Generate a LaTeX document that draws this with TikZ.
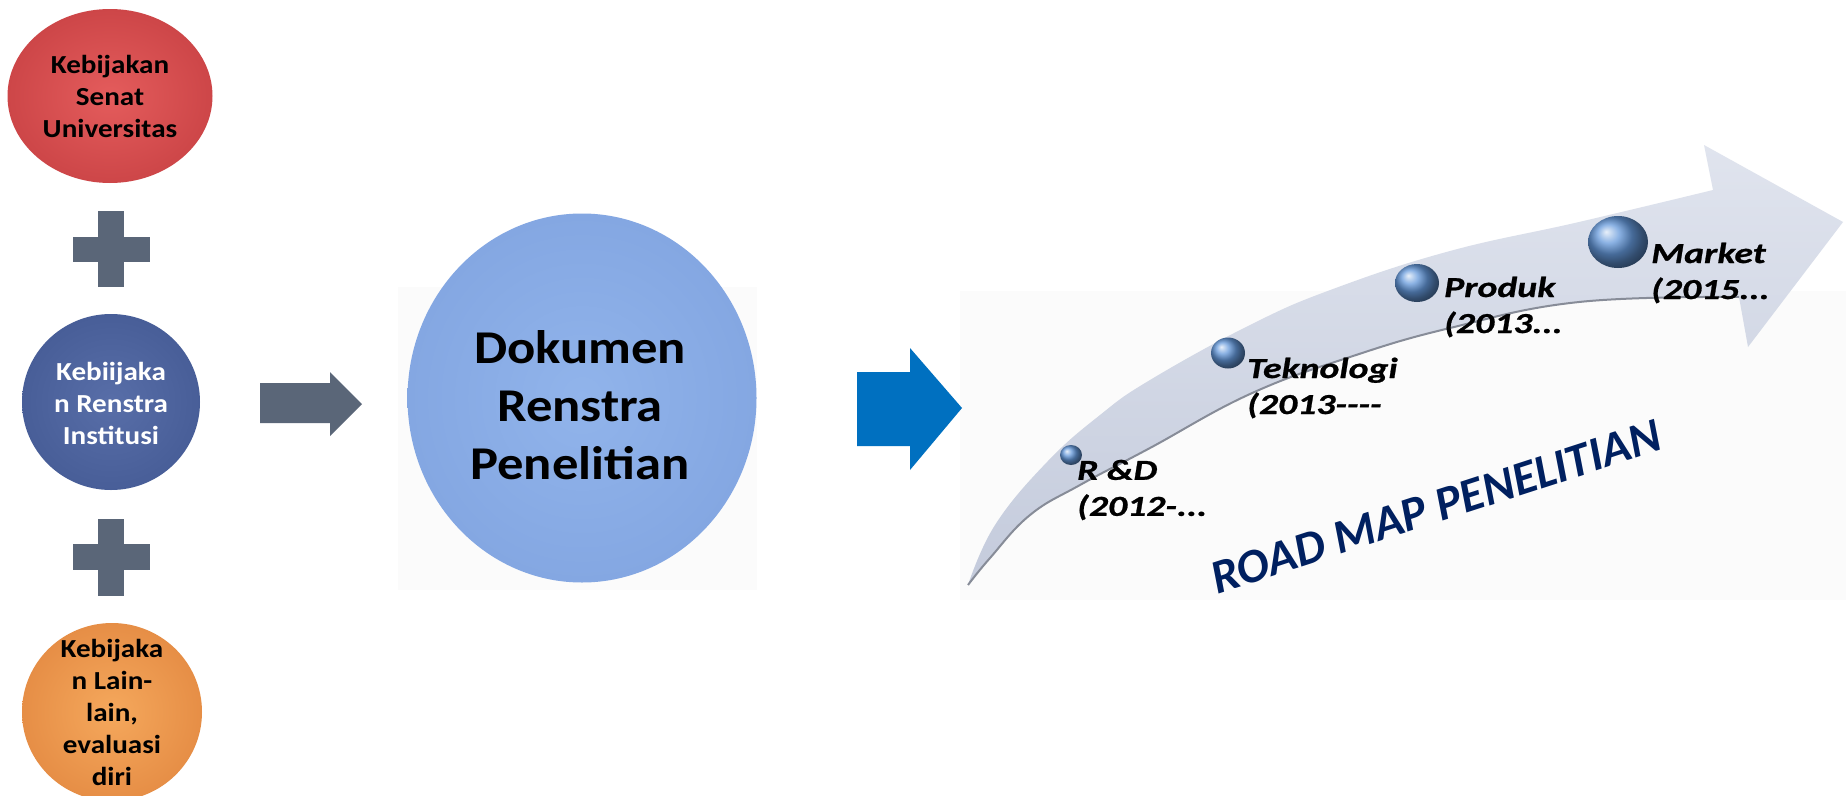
\documentclass[tikz,border=0pt]{standalone}
\usepackage{fontspec}
\setmainfont{Carlito}
\newfontfamily\cfont[FakeStretch=1.12]{Carlito}
\newfontfamily\rmapfont[FakeStretch=1.3,FakeBold=0.8]{Carlito}
\usetikzlibrary{shapes.geometric}
\definecolor{redin}{RGB}{228,92,92}
\definecolor{redout}{RGB}{205,70,72}
\definecolor{bluein}{RGB}{88,110,168}
\definecolor{blueout}{RGB}{72,94,152}
\definecolor{orin}{RGB}{245,168,92}
\definecolor{orout}{RGB}{230,142,70}
\definecolor{dokin}{RGB}{145,180,235}
\definecolor{dokout}{RGB}{132,167,226}
\definecolor{plusgray}{RGB}{90,102,120}
\definecolor{arrowblue}{RGB}{0,112,192}
\definecolor{swtop}{RGB}{224,228,238}
\definecolor{swbot}{RGB}{196,203,220}
\definecolor{swedge}{RGB}{135,140,152}
\definecolor{bubble}{RGB}{100,152,218}
\definecolor{navy}{RGB}{0,32,96}
\definecolor{faint}{RGB}{251,251,251}
\tikzset{
  disc/.style={ellipse, inner sep=0pt, shading=radial},
  ctext/.style={align=center, inner sep=0pt, font=\cfont\bfseries\fontsize{26}{32}\selectfont},
  bub/.style={ellipse, inner sep=0pt, ball color=bubble},
  rlabel/.style={anchor=west, align=left, inner sep=0pt, font=\rmapfont\bfseries\itshape\fontsize{29}{36}\selectfont},
}
\begin{document}
\begin{tikzpicture}[x=1pt,y=-1pt]
\useasboundingbox (0,0) rectangle (1846,795);
\fill[white] (0,0) rectangle (1846,795);
% faint backgrounds
\fill[faint] (398,287) rectangle (757,590);
\fill[faint] (960,291) rectangle (1846,600);

% left column
\node[disc, minimum width=205pt, minimum height=174pt, inner color=redin, outer color=redout] (red) at (110,96) {};
\node[ctext] (redt) at (110,96) {Kebijakan\\Senat\\Universitas};
\fill[plusgray] (98,211) rectangle (124,287);
\fill[plusgray] (73,237) rectangle (150,262);
\node[disc, minimum width=178pt, minimum height=176pt, inner color=bluein, outer color=blueout] (blue) at (111,402) {};
\node[ctext, text=white] (bluet) at (111,403) {Kebiijaka\\n Renstra\\Institusi};
\fill[plusgray] (98,519) rectangle (124,596);
\fill[plusgray] (73,544) rectangle (150,570);
\node[disc, minimum width=180pt, minimum height=178pt, inner color=orin, outer color=orout] (orange) at (112,712) {};
\node[ctext] (oranget) at (112,712) {Kebijaka\\n Lain-\\lain,\\evaluasi\\diri};

% gray arrow
\fill[plusgray] (260,383) -- (330,383) -- (330,372) -- (362,404) -- (330,436) -- (330,423) -- (260,423) -- cycle;

% Dokumen
\node[disc, minimum width=349pt, minimum height=369pt, inner color=dokin, outer color=dokout] (dok) at (582,398) {};
\node[align=center, inner sep=0pt, font=\cfont\bfseries\fontsize{47}{58}\selectfont] (dokt) at (580,405) {Dokumen\\Renstra\\Penelitian};

% blue arrow
\fill[arrowblue] (857,372) -- (910,372) -- (910,348) -- (962,408) -- (910,470) -- (910,446) -- (857,446) -- cycle;

% swoosh
\path[top color=swtop, bottom color=swbot]
  plot[smooth, tension=0.7] coordinates {(968,585) (995,525) (1047,462) (1100,415) (1150,380) (1250,325) (1333,289) (1450,251) (1579,222) (1713,190)}
  -- (1704,145) -- (1843,222) -- (1748,347) -- (1739,297)
  -- plot[smooth, tension=0.7] coordinates {(1739,297) (1579,302) (1450,328) (1350,357) (1250,394) (1150,448) (1080,485) (1030,515) (990,558) (968,585)}
  -- cycle;
\draw[swedge, line width=2pt] plot[smooth, tension=0.7] coordinates {(1739,297) (1579,302) (1450,328) (1350,357) (1250,394) (1150,448) (1080,485) (1030,515) (990,558) (968,585)};

% bubbles
\node[bub, minimum width=22pt, minimum height=20pt] (b1) at (1071,455) {};
\node[bub, minimum width=34pt, minimum height=31pt] (b2) at (1228,353) {};
\node[bub, minimum width=44pt, minimum height=38pt] (b3) at (1417,283) {};
\node[bub, minimum width=60pt, minimum height=52pt] (b4) at (1618,242) {};

\node[rlabel] (l1) at (1077,490) {R \&D\\(2012-...};
\node[rlabel] (l2) at (1247,388) {Teknologi\\(2013----};
\node[rlabel] (l3) at (1444,307) {Produk\\(2013...};
\node[rlabel] (l4) at (1651,273) {Market\\(2015...};

\node[rotate=18, text=navy, inner sep=0pt, font=\bfseries\itshape\fontsize{48}{56}\selectfont] (title) at (1436,507) {ROAD MAP PENELITIAN};
\end{tikzpicture}
\end{document}
